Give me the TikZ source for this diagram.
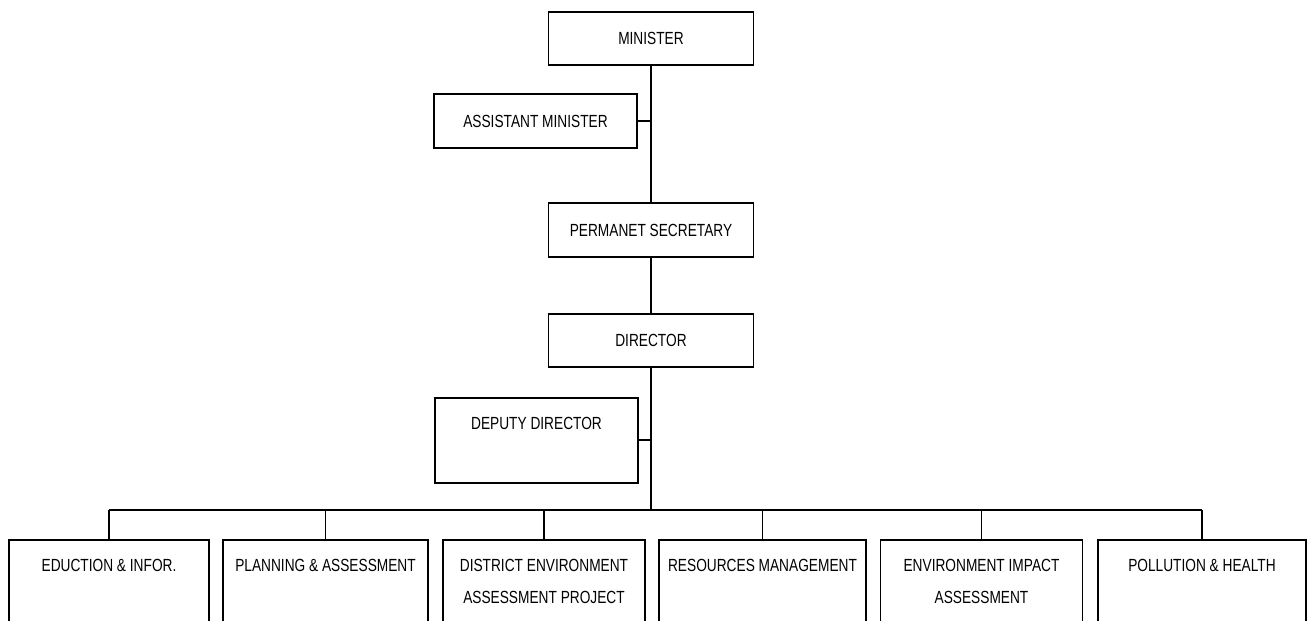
\documentclass[tikz,border=0pt]{standalone}
\usepackage{fontspec}
\setmainfont{Liberation Sans}[FakeStretch=0.78]
\usepackage{tikz}

\begin{document}
\begin{tikzpicture}[x=0.02cm, y=-0.02cm,
        every node/.style={font=\fontsize{10}{18}\selectfont},
        post/.style={draw, line width=0.9pt, minimum width=4.1cm, minimum height=1.07cm, inner sep=0pt},
        unit/.style={draw, line width=0.9pt, minimum width=4.04cm, minimum height=2cm, anchor=north, inner sep=0pt},
        caption/.style={anchor=north, inner sep=0pt, align=center, yshift=-0.4cm},
        link/.style={line width=1.1pt}
    ]
        \clip (0,0) rectangle (1308,620);

        % Top of the ministry
        \node[post] (minister) at (651,38.5) {MINISTER};
        \node[post, minimum width=4.06cm] (assistant) at (535.5,121) {ASSISTANT MINISTER};
        \node[post] (secretary) at (651,230) {PERMANET SECRETARY};
        \node[post] (director) at (651,340.5) {DIRECTOR};
        \node[post, minimum width=4.06cm, minimum height=1.7cm, anchor=north] (deputy) at (536.5,397) {};
        \node[caption] (deputy-t) at (deputy.north) {DEPUTY DIRECTOR};

        % Bus to the units
        \coordinate (bus) at (651,510);

        % Units
        \node[unit, minimum width=4cm] (edu) at (109,539) {};
        \node[unit, minimum width=4.1cm] (plan) at (325.5,539) {};
        \node[unit] (dist) at (544,539) {};
        \node[unit, minimum width=4.14cm] (res) at (762.5,539) {};
        \node[unit] (eia) at (981.5,539) {};
        \node[unit, minimum width=4.16cm] (pol) at (1202,539) {};

        \node[caption] (edu-t) at (edu.north) {EDUCTION \& INFOR.};
        \node[caption] (plan-t) at (plan.north) {PLANNING \& ASSESSMENT};
        \node[caption] (dist-t) at (dist.north) {DISTRICT ENVIRONMENT\\ASSESSMENT PROJECT};
        \node[caption] (res-t) at (res.north) {RESOURCES MANAGEMENT};
        \node[caption] (eia-t) at (eia.north) {ENVIRONMENT IMPACT\\ASSESSMENT};
        \node[caption] (pol-t) at (pol.north) {POLLUTION \& HEALTH};

        % Lines of the chart
        \draw[link] (minister.south) -- (secretary.north);
        \draw[link] (secretary.south) -- (director.north);
        \draw[link] (director.south) -- (bus);
        \draw[link] (assistant.east) -- (assistant.east -| minister.south);
        \draw[link] (deputy.east) -- (deputy.east -| director.south);
        \draw[link] (edu.north |- bus) -- (pol.north |- bus);
        \foreach \u in {edu, plan, dist, res, eia, pol}
            \draw[link] (\u.north) -- (\u.north |- bus);

    \end{tikzpicture}
\end{document}
